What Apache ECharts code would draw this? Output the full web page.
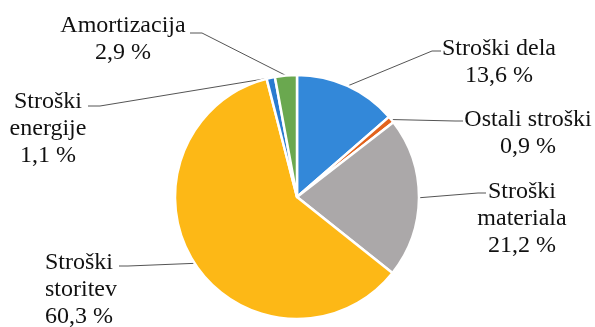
<!DOCTYPE html>
<html>
<head>
<meta charset="utf-8">
<script src="https://cdn.jsdelivr.net/npm/echarts@6/dist/echarts.min.js"></script>
<style>
  html, body { margin: 0; padding: 0; background: #fff; }
  #chart { width: 595px; height: 327px; }
</style>
</head>
<body>
<div id="chart"></div>
<script>
// Cost structure (share of total, %)
const categories = [
  'Stroški dela',
  'Ostali stroški',
  'Stroški\nmateriala',
  'Stroški\nstoritev',
  'Stroški\nenergije',
  'Amortizacija'
];
const shares = [13.6, 0.9, 21.2, 60.3, 1.1, 2.9];
const colors = ['#3388d9', '#e2621c', '#aba8a9', '#fdb816', '#2a7bd0', '#6aa84f'];

// Label placement: text block anchor plus the end of its leader line
const labelPlacement = [
  { x: 499, y: 35,  align: 'center', elbow: [432, 51],  end: [441, 51] },
  { x: 528, y: 106, align: 'center', elbow: [455, 121], end: [463, 121] },
  { x: 522, y: 178, align: 'center', elbow: [478, 193], end: [486, 193] },
  { x: 45,  y: 249, align: 'left',   elbow: [128, 266], end: [119, 266] },
  { x: 48,  y: 88,  align: 'center', elbow: [100, 106], end: [88, 106] },
  { x: 123, y: 12,  align: 'center', elbow: [202, 33],  end: [190, 33] }
];

const chart = echarts.init(document.getElementById('chart'), null, { renderer: 'canvas' });

chart.setOption({
  backgroundColor: '#ffffff',
  animation: false,
  series: [{
    type: 'pie',
    center: [297, 197],
    radius: 122,
    startAngle: 90,
    clockwise: true,
    avoidLabelOverlap: false,
    data: categories.map((name, i) => ({
      name: name,
      value: shares[i],
      itemStyle: { color: colors[i] }
    })),
    itemStyle: { borderColor: '#ffffff', borderWidth: 2.5 },
    label: {
      show: true,
      position: 'outside',
      fontFamily: 'Liberation Serif',
      fontSize: 24,
      lineHeight: 27,
      color: '#111111',
      formatter: p => p.name + '\n' + String(p.value).replace('.', ',') + ' %'
    },
    labelLine: {
      show: true,
      length: 20,
      length2: 10,
      lineStyle: { color: '#555555', width: 1 }
    },
    labelLayout: function (params) {
      const cfg = labelPlacement[params.dataIndex];
      const anchor = params.labelLinePoints ? params.labelLinePoints[0] : cfg.elbow;
      return {
        x: cfg.x,
        y: cfg.y,
        align: cfg.align,
        verticalAlign: 'top',
        labelLinePoints: [anchor, cfg.elbow, cfg.end]
      };
    },
    emphasis: { disabled: true }
  }]
});
</script>
</body>
</html>
